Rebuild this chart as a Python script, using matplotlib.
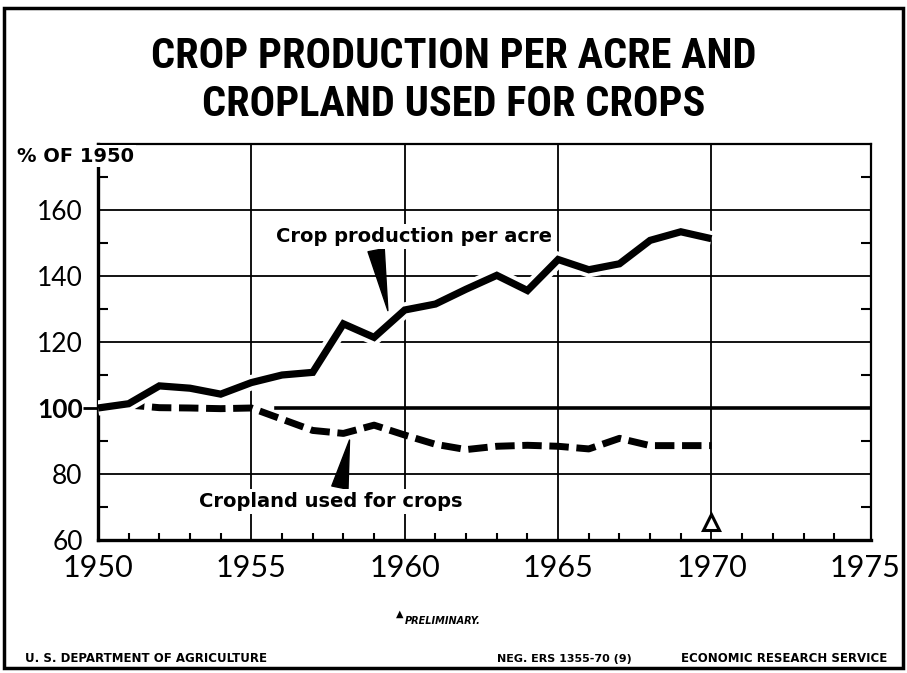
import matplotlib.pyplot as plt
import matplotlib.patheffects as pe
from matplotlib.patches import Rectangle

years = list(range(1950, 1971))
production = [100, 101.3, 106.7, 106, 104.2, 107.7, 110, 110.8, 125.5, 121.4,
              129.7, 131.5, 136, 140.2, 135.6, 145, 141.9, 143.7, 150.8, 153.4, 151.3]
cropland = [100, 100.9, 100.1, 100, 99.8, 100, 96.6, 93.2, 92.3, 94.8,
            91.8, 89, 87.4, 88.4, 88.7, 88.4, 87.6, 90.8, 88.6, 88.6, 88.6]

prelim_year = 1970
prelim_value = 65.6

x_ticks = [1950, 1955, 1960, 1965, 1970, 1975]
y_ticks = [60, 80, 100, 120, 140, 160]

num_font = 'Lato'
bold_font = 'DejaVu Sans'
title_font = ['Roboto Condensed', 'DejaVu Sans Condensed', 'Liberation Sans Narrow',
              'Open Sans Condensed', 'Liberation Sans']

fig = plt.figure(figsize=(9.07, 6.73), dpi=100)
ax = fig.add_axes([98 / 907, 1 - 540 / 673, (871 - 98) / 907, (540 - 144) / 673])

# outer frame round the whole sheet
fig.patches.append(Rectangle((4 / 907, 1 - 668 / 673), 899 / 907, 660 / 673,
                             transform=fig.transFigure, fill=False, lw=2.5, ec='black'))

ax.set_xlim(1950, 1975.2)
ax.set_ylim(60, 180)

# grid
for x in x_ticks[1:-1]:
    ax.axvline(x, color='black', lw=1.3, zorder=1)
for y in y_ticks[1:]:
    if y == 100:
        ax.axhline(y, xmin=(1955.8 - 1950) / 25.2, color='black', lw=2.6, zorder=1)
    else:
        ax.axhline(y, color='black', lw=1.3, zorder=1)

halo = [pe.Stroke(linewidth=11, foreground='white'), pe.Normal()]
ax.plot(years, cropland, color='black', lw=5, dashes=(2.8, 1.1),
        solid_capstyle='butt', dash_capstyle='butt', zorder=3)
ax.plot(years, production, color='black', lw=5.2, solid_joinstyle='miter',
        solid_capstyle='butt', path_effects=halo, zorder=4)
ax.plot([prelim_year], [prelim_value], marker='^', ms=11, mfc='white', mec='black',
        mew=2.2, zorder=5)

wedge = dict(arrowstyle='wedge,tail_width=0.85,shrink_factor=0.5',
             fc='black', ec='black', shrinkA=1, shrinkB=0)
ax.annotate('Crop production per acre', xy=(1959.45, 129.5), xytext=(1960.3, 152),
            ha='center', va='center', fontsize=14, fontweight='bold', family=bold_font,
            bbox=dict(boxstyle='square,pad=0.15', fc='white', ec='none'),
            arrowprops=dict(wedge, relpos=(0.36, 0)), zorder=6)
ax.annotate('Cropland used for crops', xy=(1958.2, 90.3), xytext=(1957.6, 71.7),
            ha='center', va='center', fontsize=14, fontweight='bold', family=bold_font,
            bbox=dict(boxstyle='square,pad=0.15', fc='white', ec='none'),
            arrowprops=dict(wedge, relpos=(0.53, 1)), zorder=6)

# axes and ticks
for side in ['left', 'bottom']:
    ax.spines[side].set_linewidth(2.4)
for side in ['top', 'right']:
    ax.spines[side].set_linewidth(1.6)

ax.set_xticks(x_ticks)
ax.set_xticklabels([str(v) for v in x_ticks], family=num_font, fontsize=22)
ax.set_xticks(range(1951, 1976), minor=True)
ax.set_yticks(y_ticks)
ax.set_yticklabels([str(v) for v in y_ticks], family=num_font, fontsize=19)
ax.set_yticks(range(70, 180, 20), minor=True)
ax.tick_params(axis='x', which='major', length=0, pad=10)
ax.tick_params(axis='x', which='minor', direction='in', length=5, width=1.5, top=False)
ax.tick_params(axis='y', which='major', length=0, pad=11)
ax.tick_params(axis='y', which='minor', direction='in', length=7, width=1.5,
               left=True, right=True)
for lab in ax.get_yticklabels():
    if lab.get_text() == '100':
        lab.set_fontweight('bold')
tick100 = ax.yaxis.get_major_ticks()[y_ticks.index(100)]
tick100.tick1line.set_marker(0)
tick100.tick1line.set_markersize(11)
tick100.tick1line.set_markeredgewidth(2)

fig.text(17 / 907, 1 - 156 / 673, '% OF 1950', fontsize=14, fontweight='bold',
         family=bold_font, ha='left', va='center',
         bbox=dict(boxstyle='square,pad=0.1', fc='white', ec='none'), zorder=10)

fig.text(0.5, 1 - 57 / 673, 'CROP PRODUCTION PER ACRE AND', fontsize=30.5, fontweight='black',
         family=title_font, fontstretch='condensed', ha='center', va='center')
fig.text(0.5, 1 - 104 / 673, 'CROPLAND USED FOR CROPS', fontsize=30.5, fontweight='black',
         family=title_font, fontstretch='condensed', ha='center', va='center')

fig.text(400 / 907, 1 - 614 / 673, '\u25b2', fontsize=7, ha='center', va='center')
fig.text(405 / 907, 1 - 621 / 673, 'PRELIMINARY.', fontsize=7, fontweight='bold',
         style='italic', family=bold_font, ha='left', va='center')
fig.text(25 / 907, 1 - 659 / 673, 'U. S. DEPARTMENT OF AGRICULTURE', fontsize=8.5,
         fontweight='bold', family=bold_font, ha='left', va='center')
fig.text(497 / 907, 1 - 659 / 673, 'NEG. ERS 1355-70 (9)', fontsize=8,
         fontweight='bold', family=bold_font, ha='left', va='center')
fig.text(887 / 907, 1 - 659 / 673, 'ECONOMIC RESEARCH SERVICE', fontsize=8.5,
         fontweight='bold', family=bold_font, ha='right', va='center')

fig.savefig('out.png', dpi=100)
